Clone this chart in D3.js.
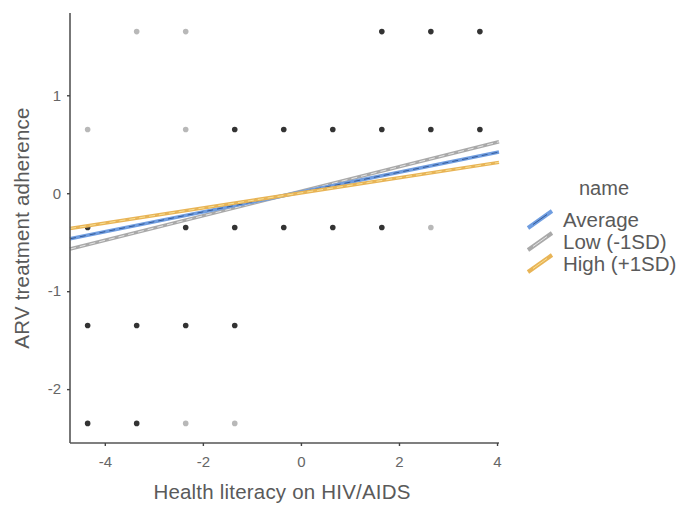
<!DOCTYPE html>
<html>
<head>
<meta charset="utf-8">
<script src="https://cdn.jsdelivr.net/npm/d3@7"></script>
<style>
  body { margin: 0; background: #fff; }
  text { font-family: "Liberation Sans", Arial, sans-serif; }
</style>
</head>
<body>
<script>
// observed points: x, y, dark (1 = many cases, 0 = few)
var pointX = [-3.35, -2.35, 1.65, 2.65, 3.65,
              -4.35, -2.35, -1.35, -0.35, 0.65, 1.65, 2.65, 3.65,
              -4.35, -2.35, -1.35, -0.35, 0.65, 1.65, 2.65,
              -4.35, -3.35, -2.35, -1.35,
              -4.35, -3.35, -2.35, -1.35];
var pointY = [1.65, 1.65, 1.65, 1.65, 1.65,
              0.65, 0.65, 0.65, 0.65, 0.65, 0.65, 0.65, 0.65,
              -0.35, -0.35, -0.35, -0.35, -0.35, -0.35, -0.35,
              -1.35, -1.35, -1.35, -1.35,
              -2.35, -2.35, -2.35, -2.35];
var pointDark = [0, 0, 1, 1, 1,
                 0, 0, 1, 1, 1, 1, 1, 1,
                 1, 1, 1, 1, 1, 1, 0,
                 1, 1, 1, 1,
                 1, 1, 0, 0];

// simple slopes (end points of each fitted line)
var seriesNames = ["Average", "Low (-1SD)", "High (+1SD)"];
var lineX = [-4.71, 4.04];
var avgY = [-0.465, 0.42];
var lowY = [-0.57, 0.525];
var highY = [-0.36, 0.315];

var xTicks = [-4, -2, 0, 2, 4];
var yTicks = [-2, -1, 0, 1];

var width = 678, height = 506;
var mLeft = 70, mRight = 499, mTop = 13, mBottom = 443;

var svg = d3.select("body").append("svg")
    .attr("width", width)
    .attr("height", height);

var x = d3.scaleLinear().domain([-4.71, 4.04]).range([mLeft, mRight]);
var y = d3.scaleLinear().domain([-2.55, 1.84]).range([mBottom, mTop]);

var points = pointX.map(function(d, i) { return {x: d, y: pointY[i], dark: pointDark[i]}; });

svg.append("g").selectAll("circle")
    .data(points)
  .enter().append("circle")
    .attr("cx", function(d) { return x(d.x); })
    .attr("cy", function(d) { return y(d.y); })
    .attr("r", 2.8)
    .style("fill", function(d) { return d.dark ? "#333333" : "#b8b8b8"; });

var series = [
  {name: seriesNames[1], ys: lowY, color: "#a9a9a9", inner: "#ffffff"},
  {name: seriesNames[0], ys: avgY, color: "#6f9de0", inner: "#1c3f7a"},
  {name: seriesNames[2], ys: highY, color: "#e8b456", inner: "#fff2b0"}
];

var line = d3.line()
    .x(function(d) { return x(d[0]); })
    .y(function(d) { return y(d[1]); });

series.forEach(function(s) {
  var pts = lineX.map(function(v, i) { return [v, s.ys[i]]; });
  svg.append("path")
      .attr("d", line(pts))
      .style("fill", "none")
      .style("stroke", s.color)
      .style("stroke-width", 3.5);
  svg.append("path")
      .attr("d", line(pts))
      .style("fill", "none")
      .style("stroke", s.inner)
      .style("stroke-width", 1)
      .style("stroke-dasharray", "6,4")
      .style("opacity", 0.7);
});

// axes (hyphen minus like the original)
var fmt = function(d) { return String(d); };
var xAxis = svg.append("g")
    .attr("transform", "translate(0," + mBottom + ")")
    .call(d3.axisBottom(x).tickValues(xTicks).tickSize(3).tickPadding(10).tickFormat(fmt));
var yAxis = svg.append("g")
    .attr("transform", "translate(" + mLeft + ",0)")
    .call(d3.axisLeft(y).tickValues(yTicks).tickSize(3).tickPadding(6).tickFormat(fmt));

[xAxis, yAxis].forEach(function(a) {
  a.select(".domain").style("stroke", "#555").style("stroke-width", 1.6);
  a.selectAll(".tick line").style("stroke", "#444").style("stroke-width", 1.4);
  a.selectAll(".tick text").style("fill", "#666").style("font-size", "15px");
});
xAxis.select(".domain").attr("d", "M" + mLeft + ",0H" + mRight);
yAxis.select(".domain").attr("d", "M0," + mTop + "V" + mBottom);

svg.append("text")
    .attr("x", 282)
    .attr("y", 499)
    .attr("text-anchor", "middle")
    .style("font-size", "20.5px")
    .style("letter-spacing", "0.2px")
    .style("fill", "#5a5a5a")
    .text("Health literacy on HIV/AIDS");

svg.append("text")
    .attr("transform", "translate(29," + ((mTop + mBottom) / 2) + ") rotate(-90)")
    .attr("text-anchor", "middle")
    .style("font-size", "20.5px")
    .style("letter-spacing", "0.2px")
    .style("fill", "#5a5a5a")
    .text("ARV treatment adherence");

// legend
var legend = svg.append("g");
legend.append("text")
    .attr("x", 604)
    .attr("y", 195)
    .attr("text-anchor", "middle")
    .style("font-size", "20px")
    .style("fill", "#5a5a5a")
    .text("name");

var legendItems = [series[1], series[0], series[2]];
legendItems.forEach(function(s, i) {
  var cy = 219 + i * 22;
  legend.append("line")
      .attr("x1", 528).attr("y1", cy + 9)
      .attr("x2", 552).attr("y2", cy - 8)
      .style("stroke", s.color)
      .style("stroke-width", 4);
  legend.append("line")
      .attr("x1", 533).attr("y1", cy + 5.5)
      .attr("x2", 547).attr("y2", cy - 4.5)
      .style("stroke", s.inner)
      .style("stroke-width", 1)
      .style("opacity", 0.7);
  legend.append("text")
      .attr("x", 563)
      .attr("y", cy + 8)
      .style("font-size", "20.5px")
      .style("fill", "#5a5a5a")
      .text(s.name);
});
</script>
</body>
</html>
